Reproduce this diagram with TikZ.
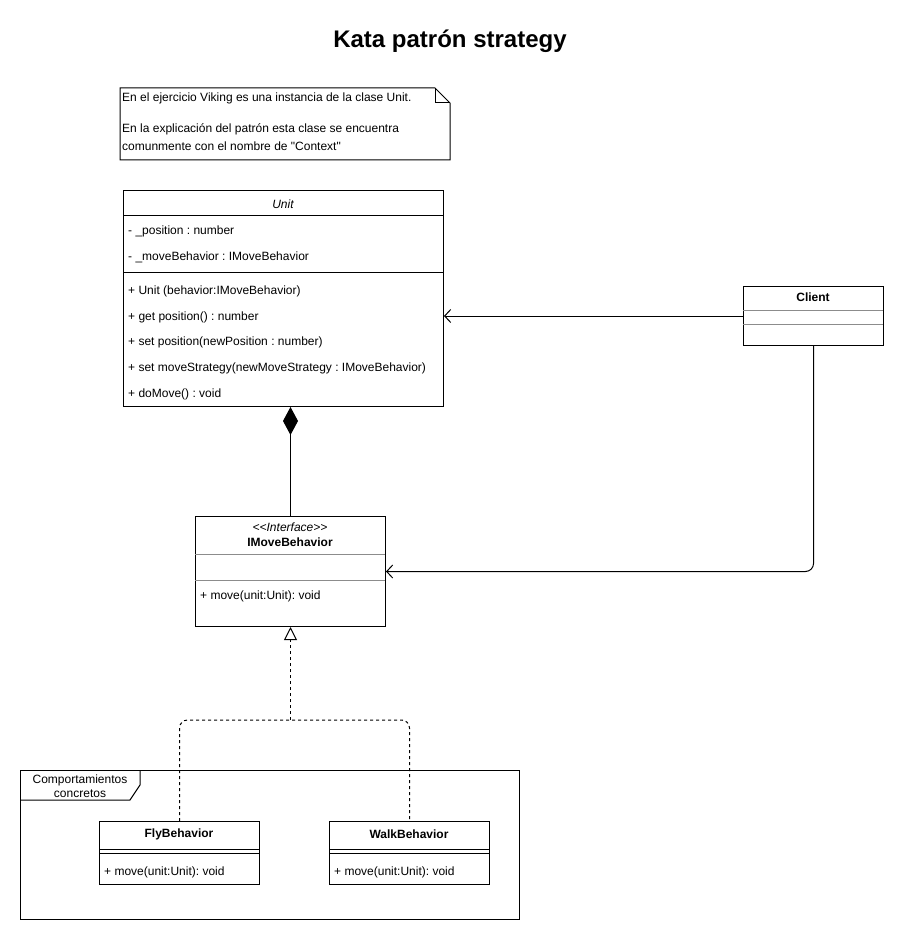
\documentclass[tikz,border=0pt]{standalone}
\usepackage{fontspec}
\setmainfont{Liberation Sans}[Ligatures=TeXOff]
\frenchspacing
\usetikzlibrary{arrows.meta,calc}
\tikzset{
  box/.style={draw, line width=1pt, anchor=north west, inner sep=0pt},
  member/.style={anchor=west, inner sep=0pt, font=\fontsize{12}{14}\selectfont},
  head/.style={inner sep=0pt, font=\fontsize{12}{14}\selectfont\bfseries},
  sep/.style={line width=1pt},
  lightsep/.style={line width=1pt, black!45},
  link/.style={line width=1pt},
  openarrow/.style={-{Straight Barb[length=6pt,width=13pt,line width=1pt]}}
}

\begin{document}
\begin{tikzpicture}[x=1pt,y=-1pt]
\useasboundingbox (0,0) rectangle (904,941);

\node[font=\fontsize{24}{28}\selectfont\bfseries] (title) at (450,41) {Kata patrón strategy};

%Note
\draw[line width=1pt] (120,88) -- (435,88) -- (450,103) -- (450,160) -- (120,160) -- cycle;
\draw[line width=1pt] (435,88) -- (435,103) -- (450,103);
\node[member] (note1) at (122,98) {En el ejercicio Viking es una instancia de la clase Unit.};
\node[member] (note2) at (122,129) {En la explicación del patrón esta clase se encuentra};
\node[member] (note3) at (122,146) {comunmente con el nombre de "Context"};

%Unit
\node[box, minimum width=320pt, minimum height=216pt] (unit) at (123,190) {};
\node[head, font=\fontsize{12}{14}\selectfont\itshape] (unitname) at (283,204) {Unit};
\draw[sep] (123,216) -- (443,216);
\node[member] (a1) at (128,231) {- \_position : number};
\node[member] (a2) at (128,257) {- \_moveBehavior : IMoveBehavior};
\draw[sep] (123,272) -- (443,272);
\node[member] (m1) at (128,291) {+ Unit (behavior:IMoveBehavior)};
\node[member] (m2) at (128,317) {+ get position() : number};
\node[member] (m3) at (128,342) {+ set position(newPosition : number)};
\node[member] (m4) at (128,368) {+ set moveStrategy(newMoveStrategy : IMoveBehavior)};
\node[member] (m5) at (128,394) {+ doMove() : void};

%Client
\node[box, minimum width=140pt, minimum height=59pt] (client) at (743,286) {};
\node[head] (clientname) at (813,297) {Client};
\draw[lightsep] (743,310) -- (883,310);
\draw[lightsep] (743,324) -- (883,324);

%Interface
\node[box, minimum width=190pt, minimum height=110pt] (iface) at (195,516) {};
\node[head, font=\fontsize{12}{14}\selectfont\itshape] (stereo) at (290,527) {<<Interface>>};
\node[head] (ifacename) at (290,542) {IMoveBehavior};
\draw[lightsep] (195,554) -- (385,554);
\draw[lightsep] (195,580) -- (385,580);
\node[member] (im1) at (200,596) {+ move(unit:Unit): void};

%Group frame
\draw[line width=1pt] (20,770) rectangle (519,919);
\draw[line width=1pt] (20,800) -- (130,800) -- (140,785) -- (140,770);
\node[inner sep=0pt, align=center, font=\fontsize{12}{14.5}\selectfont] (grouplabel) at (80,786) {Comportamientos\\concretos};

%Concrete behaviors
\node[box, minimum width=160pt, minimum height=63pt] (fly) at (99,821) {};
\node[head] (flyname) at (179,834) {FlyBehavior};
\draw[sep] (99,849) -- (259,849);
\draw[sep] (99,853) -- (259,853);
\node[member] (fm1) at (104,872) {+ move(unit:Unit): void};

\node[box, minimum width=160pt, minimum height=63pt] (walk) at (329,821) {};
\node[head] (walkname) at (409,834) {WalkBehavior};
\draw[sep] (329,849) -- (489,849);
\draw[sep] (329,853) -- (489,853);
\node[member] (wm1) at (334,872) {+ move(unit:Unit): void};

%Relations
\draw[link, openarrow] (client.west) -- (unit.east |- client.west);
\draw[link, {Diamond[length=28pt,width=15pt]}-] (iface.north |- unit.south) -- (iface.north);
\draw[link, openarrow, rounded corners=8pt] (client.south) |- (iface.east);
\coordinate (join) at (iface.south |- 0,720);
\draw[link, dashed, dash pattern=on 3pt off 3pt, rounded corners=8pt] (fly.north) |- (join) -| (walk.north);
\draw[link, dashed, dash pattern=on 3pt off 3pt, -{Triangle[open, length=13pt, width=13pt, line width=1pt]}] (join) -- (iface.south);

\end{tikzpicture}
\end{document}
